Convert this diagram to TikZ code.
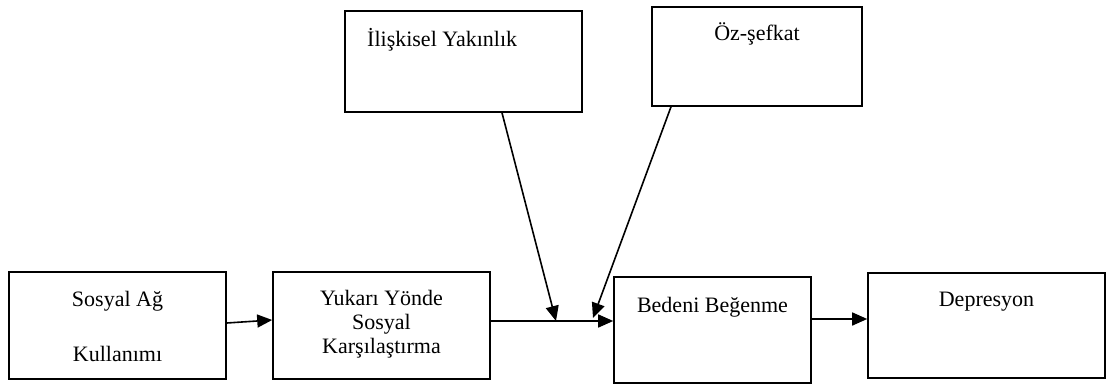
\documentclass[tikz,border=0pt]{standalone}
\usepackage{fontspec}
\setmainfont{Liberation Serif}
\usetikzlibrary{arrows.meta}
\begin{document}
\begin{tikzpicture}[x=1pt,y=-1pt,
  box/.style={draw,line width=1.6pt,rectangle,inner sep=0pt},
  lbl/.style={font=\fontsize{22pt}{26pt}\selectfont,inner sep=0pt,anchor=base},
  arr/.style={line width=1.6pt,-{Triangle[length=15pt,width=13pt]}}]
\useasboundingbox (0,0) rectangle (1120,385);
\node[box,minimum width=217pt,minimum height=107pt] (b1) at (117.5,325.5) {};
\node[box,minimum width=217pt,minimum height=107pt] (b2) at (381.5,325.5) {};
\node[box,minimum width=197pt,minimum height=106pt] (b3) at (712.5,330) {};
\node[box,minimum width=237pt,minimum height=105pt] (b4) at (986.5,325.5) {};
\node[box,minimum width=237pt,minimum height=101pt] (b5) at (463.5,61.5) {};
\node[box,minimum width=210pt,minimum height=99pt] (b6) at (757,56.5) {};
\node[lbl] (t1a) at (117.5,306) {Sosyal Ağ};
\node[lbl] (t1b) at (117.5,361) {Kullanımı};
\node[lbl] (t2a) at (381.5,305) {Yukarı Yönde};
\node[lbl] (t2b) at (381.5,329) {Sosyal};
\node[lbl] (t2c) at (381.5,353) {Karşılaştırma};
\node[lbl] (t3) at (712.5,312) {Bedeni Beğenme};
\node[lbl] (t4) at (986.5,306) {Depresyon};
\node[lbl,anchor=base west] (t5) at (367,47) {İlişkisel Yakınlık};
\node[lbl] (t6) at (757,41) {Öz-şefkat};
\coordinate (j1) at (556,321);
\coordinate (j2) at (593,318);
\draw[arr] (b1.east |- 0,323) -- (b2.west |- 0,320);
\draw[arr] (b2.east |- 0,321) -- (b3.west |- 0,321);
\draw[arr] (b3.east |- 0,319) -- (b4.west |- 0,319);
\draw[arr] (b5.south -| 502,0) -- (j1);
\draw[arr] (b6.south -| 671,0) -- (j2);
\end{tikzpicture}
\end{document}
